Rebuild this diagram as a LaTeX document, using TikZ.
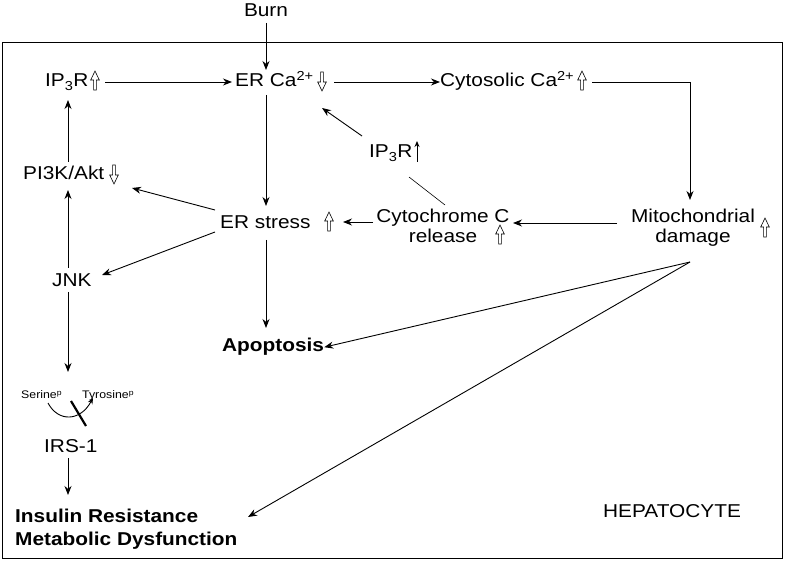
\documentclass[tikz,border=0pt]{standalone}
\usepackage{fontspec}
\setmainfont{Liberation Sans}[FakeStretch=1.12]
\usetikzlibrary{arrows.meta}
\tikzset{
  lbl/.style={inner sep=0pt, font=\fontsize{18.6}{20}\selectfont, align=center},
  bold/.style={lbl, font=\fontsize{18.6}{23}\selectfont\bfseries},
  small/.style={inner sep=0pt, font=\fontsize{11}{13}\selectfont},
  conn/.style={line width=0.9pt, -{Stealth[length=9pt,width=7pt]}},
  plain/.style={line width=0.6pt},
  hup/.pic={\draw[line width=0.6pt,fill=white] (-1.4,9)--(-1.4,-1)--(-4.3,-1)--(0,-10)--(4.3,-1)--(1.4,-1)--(1.4,9)--cycle;},
  hdown/.pic={\draw[line width=0.6pt,fill=white] (-1.4,-9)--(-1.4,1)--(-4.3,1)--(0,10)--(4.3,1)--(1.4,1)--(1.4,-9)--cycle;}
}
\begin{document}
\begin{tikzpicture}[x=1pt,y=-1pt]
\useasboundingbox (0,0) rectangle (785,561);
\fill[white] (0,0) rectangle (785,561);
\draw[line width=0.8pt] (2,42) rectangle (782,558);

% nodes
\node[lbl,anchor=base] (burn) at (266,17) {Burn};
\node[lbl,anchor=base west] (ip3r) at (45,87) {IP\textsubscript{3}R};
\node[lbl,anchor=base west] (erca) at (235,87) {ER Ca\textsuperscript{2+}};
\node[lbl,anchor=base west] (cyto) at (440,87) {Cytosolic Ca\textsuperscript{2+}};
\node[lbl,anchor=base west] (ip3rm) at (369,158) {IP\textsubscript{3}R};
\node[lbl,anchor=base west] (pi3k) at (23,180) {PI3K/Akt};
\node[lbl,anchor=base west] (erst) at (220,229) {ER stress};
\node[lbl] (cytc) at (443,226) {Cytochrome C\\release};
\node[lbl] (mito) at (693,228) {Mitochondrial\\damage};
\node[lbl,anchor=base west] (jnk) at (52,287) {JNK};
\node[bold,anchor=base west] (apop) at (222,352) {Apoptosis};
\node[small,anchor=base west] (ser) at (21,399) {Serine\textsuperscript{p}};
\node[small,anchor=base west] (tyr) at (82,399) {Tyrosine\textsuperscript{p}};
\node[lbl,anchor=base west] (irs) at (44,452) {IRS-1};
\node[bold,align=left,anchor=west] (ins) at (15,529) {Insulin Resistance\\Metabolic Dysfunction};
\node[lbl,anchor=base west] (hep) at (603,517) {HEPATOCYTE};

% hollow / indicator arrows
\pic at (95,81) {hup};
\pic at (322,81) {hdown};
\pic at (582,81) {hup};
\pic at (114,174) {hdown};
\pic at (329,222) {hup};
\pic at (500,235) {hup};
\pic at (765,228) {hup};
\draw[line width=1pt,-{Stealth[length=6pt,width=5pt]}] (417,162) -- (417,141);

% coordinates
\coordinate (mfan) at (690,262);
\coordinate (corner) at (690,82);

% connectors
\draw[conn] (burn.base) ++(0,6) -- (266,70);
\draw[conn] (105,82) -- (232,82);
\draw[conn] (334,82) -- (cyto.west|-0,82);
\draw[line width=0.9pt] (592,82) -- (corner);
\draw[conn] (corner) -- (690,200);
\draw[conn] (266,95) -- (266,206);
\draw[conn] (362,136) -- (322,108);
\draw[plain] (445,205) -- (409,177);
\draw[conn] (373,222) -- (343,222);
\draw[conn] (617,223) -- (513,223);
\draw[conn] (215,210) -- (132,188);
\draw[conn] (215,232) -- (102,275);
\draw[conn] (68,268) -- (68,190);
\draw[conn] (68,162) -- (68,100);
\draw[conn] (68,292) -- (68,372);
\draw[conn] (266,240) -- (266,328);
\draw[conn] (mfan) -- (apop.east);
\draw[conn] (mfan) -- (248,517);
\draw[conn] (68,458) -- (68,495);

% serine -> tyrosine
\draw[line width=0.9pt,-{Stealth[length=6pt,width=5pt]}] (48,403) .. controls (58,422) and (80,422) .. (93,398);
\draw[line width=2.2pt] (71,401) -- (86,426);
\end{tikzpicture}
\end{document}
